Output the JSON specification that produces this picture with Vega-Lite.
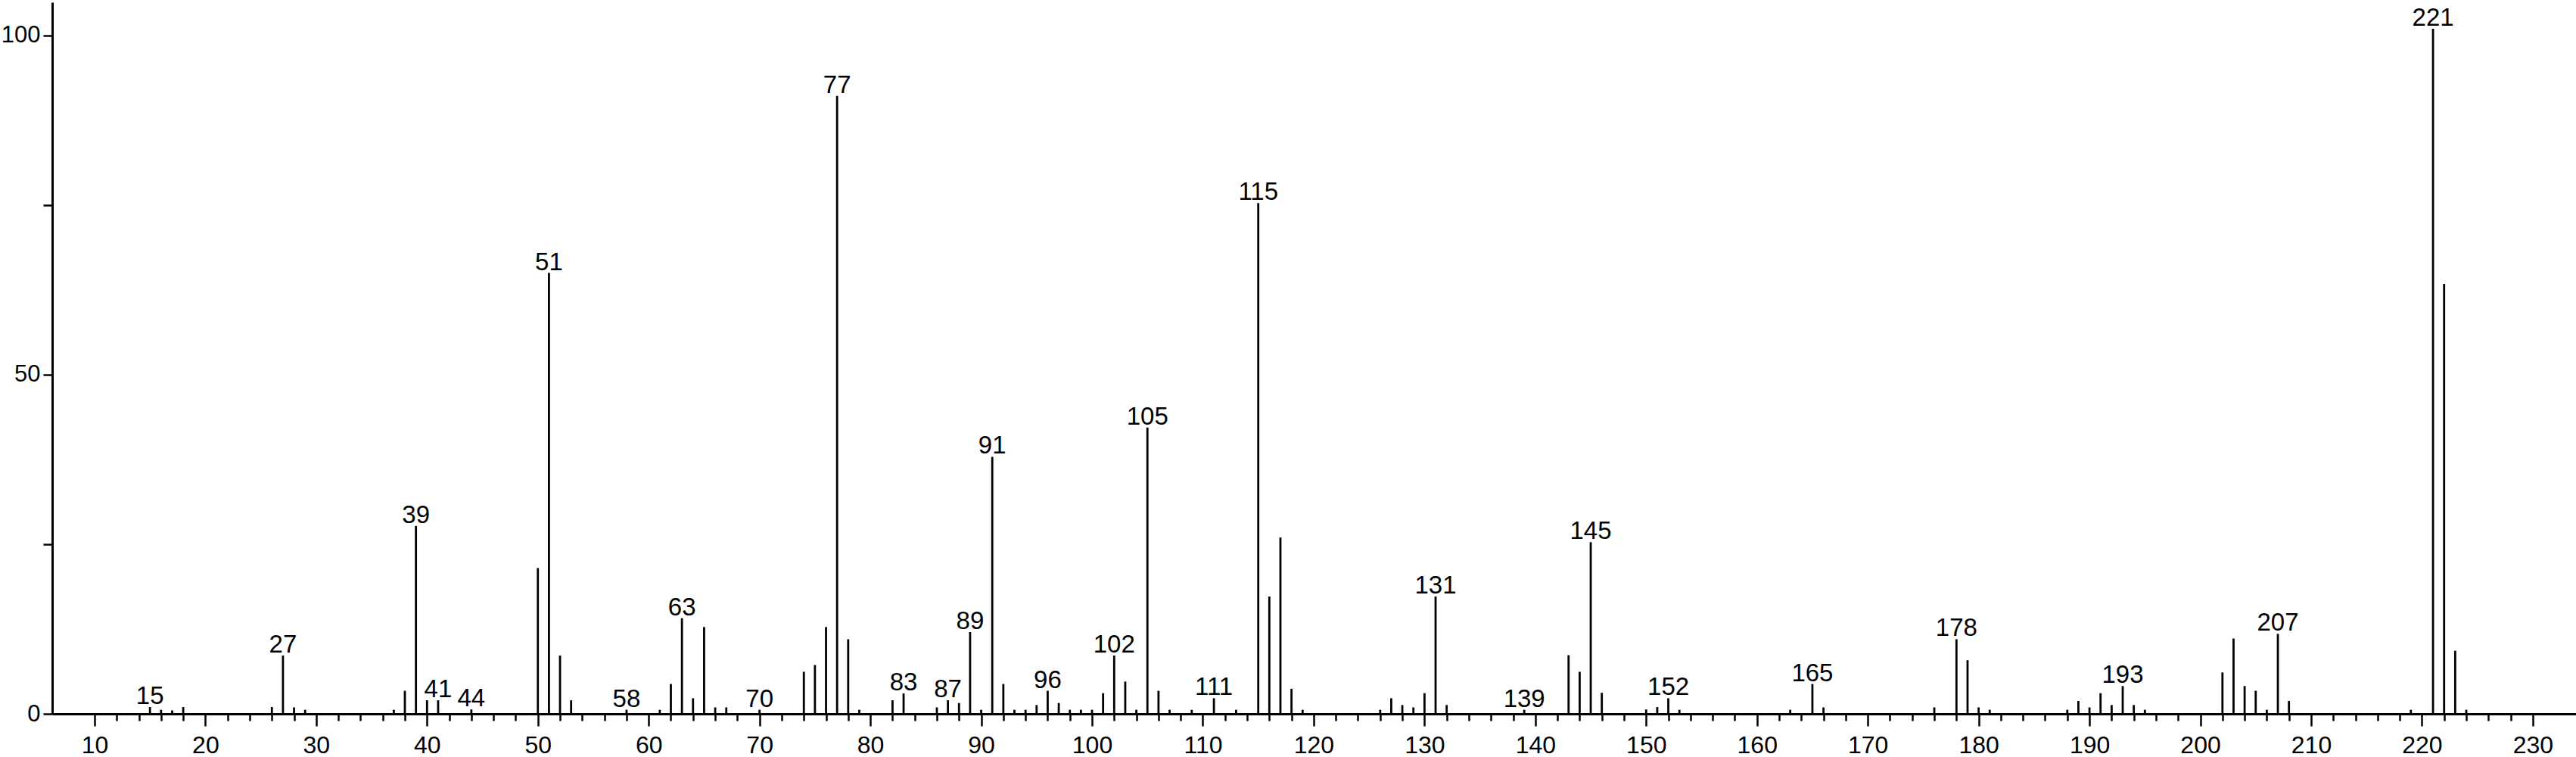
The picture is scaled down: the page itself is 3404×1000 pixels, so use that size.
{
  "$schema": "https://vega.github.io/schema/vega-lite/v6.json",
  "autosize": "none",
  "width": 3335,
  "height": 940,
  "padding": {"left": 69, "top": 3, "right": 0, "bottom": 57},
  "background": "white",
  "config": {
    "view": {"stroke": null},
    "font": "Liberation Sans"
  },
  "data": {
    "values": [
      {"mz": 15, "ab": 1.0, "lab": true},
      {"mz": 16, "ab": 0.6, "lab": false},
      {"mz": 17, "ab": 0.5, "lab": false},
      {"mz": 18, "ab": 1.0, "lab": false},
      {"mz": 26, "ab": 1.0, "lab": false},
      {"mz": 27, "ab": 8.6, "lab": true},
      {"mz": 28, "ab": 0.95, "lab": false},
      {"mz": 29, "ab": 0.6, "lab": false},
      {"mz": 37, "ab": 0.6, "lab": false},
      {"mz": 38, "ab": 3.4, "lab": false},
      {"mz": 39, "ab": 27.7, "lab": true},
      {"mz": 40, "ab": 2.0, "lab": false},
      {"mz": 41, "ab": 2.0, "lab": true},
      {"mz": 44, "ab": 0.65, "lab": true},
      {"mz": 50, "ab": 21.5, "lab": false},
      {"mz": 51, "ab": 65.0, "lab": true},
      {"mz": 52, "ab": 8.6, "lab": false},
      {"mz": 53, "ab": 2.0, "lab": false},
      {"mz": 58, "ab": 0.6, "lab": true},
      {"mz": 61, "ab": 0.6, "lab": false},
      {"mz": 62, "ab": 4.4, "lab": false},
      {"mz": 63, "ab": 14.1, "lab": true},
      {"mz": 64, "ab": 2.3, "lab": false},
      {"mz": 65, "ab": 12.8, "lab": false},
      {"mz": 66, "ab": 0.95, "lab": false},
      {"mz": 67, "ab": 0.95, "lab": false},
      {"mz": 70, "ab": 0.6, "lab": true},
      {"mz": 74, "ab": 6.2, "lab": false},
      {"mz": 75, "ab": 7.2, "lab": false},
      {"mz": 76, "ab": 12.8, "lab": false},
      {"mz": 77, "ab": 91.1, "lab": true},
      {"mz": 78, "ab": 11.0, "lab": false},
      {"mz": 79, "ab": 0.6, "lab": false},
      {"mz": 82, "ab": 2.0, "lab": false},
      {"mz": 83, "ab": 3.0, "lab": true},
      {"mz": 86, "ab": 0.95, "lab": false},
      {"mz": 87, "ab": 2.0, "lab": true},
      {"mz": 88, "ab": 1.6, "lab": false},
      {"mz": 89, "ab": 12.05, "lab": true},
      {"mz": 90, "ab": 0.6, "lab": false},
      {"mz": 91, "ab": 37.9, "lab": true},
      {"mz": 92, "ab": 4.4, "lab": false},
      {"mz": 93, "ab": 0.6, "lab": false},
      {"mz": 94, "ab": 0.6, "lab": false},
      {"mz": 95, "ab": 1.3, "lab": false},
      {"mz": 96, "ab": 3.4, "lab": true},
      {"mz": 97, "ab": 1.6, "lab": false},
      {"mz": 98, "ab": 0.6, "lab": false},
      {"mz": 99, "ab": 0.6, "lab": false},
      {"mz": 100, "ab": 0.6, "lab": false},
      {"mz": 101, "ab": 3.05, "lab": false},
      {"mz": 102, "ab": 8.6, "lab": true},
      {"mz": 103, "ab": 4.76, "lab": false},
      {"mz": 104, "ab": 0.6, "lab": false},
      {"mz": 105, "ab": 42.2, "lab": true},
      {"mz": 106, "ab": 3.4, "lab": false},
      {"mz": 107, "ab": 0.6, "lab": false},
      {"mz": 109, "ab": 0.6, "lab": false},
      {"mz": 111, "ab": 2.3, "lab": true},
      {"mz": 113, "ab": 0.6, "lab": false},
      {"mz": 115, "ab": 75.3, "lab": true},
      {"mz": 116, "ab": 17.3, "lab": false},
      {"mz": 117, "ab": 26.0, "lab": false},
      {"mz": 118, "ab": 3.7, "lab": false},
      {"mz": 119, "ab": 0.6, "lab": false},
      {"mz": 126, "ab": 0.6, "lab": false},
      {"mz": 127, "ab": 2.3, "lab": false},
      {"mz": 128, "ab": 1.3, "lab": false},
      {"mz": 129, "ab": 0.95, "lab": false},
      {"mz": 130, "ab": 3.05, "lab": false},
      {"mz": 131, "ab": 17.3, "lab": true},
      {"mz": 132, "ab": 1.3, "lab": false},
      {"mz": 139, "ab": 0.6, "lab": true},
      {"mz": 143, "ab": 8.65, "lab": false},
      {"mz": 144, "ab": 6.2, "lab": false},
      {"mz": 145, "ab": 25.3, "lab": true},
      {"mz": 146, "ab": 3.1, "lab": false},
      {"mz": 150, "ab": 0.65, "lab": false},
      {"mz": 151, "ab": 1.0, "lab": false},
      {"mz": 152, "ab": 2.3, "lab": true},
      {"mz": 153, "ab": 0.6, "lab": false},
      {"mz": 163, "ab": 0.6, "lab": false},
      {"mz": 165, "ab": 4.4, "lab": true},
      {"mz": 166, "ab": 0.95, "lab": false},
      {"mz": 176, "ab": 0.95, "lab": false},
      {"mz": 178, "ab": 11.0, "lab": true},
      {"mz": 179, "ab": 7.9, "lab": false},
      {"mz": 180, "ab": 0.95, "lab": false},
      {"mz": 181, "ab": 0.6, "lab": false},
      {"mz": 188, "ab": 0.6, "lab": false},
      {"mz": 189, "ab": 1.9, "lab": false},
      {"mz": 190, "ab": 0.95, "lab": false},
      {"mz": 191, "ab": 3.05, "lab": false},
      {"mz": 192, "ab": 1.3, "lab": false},
      {"mz": 193, "ab": 4.1, "lab": true},
      {"mz": 194, "ab": 1.3, "lab": false},
      {"mz": 195, "ab": 0.6, "lab": false},
      {"mz": 202, "ab": 6.1, "lab": false},
      {"mz": 203, "ab": 11.1, "lab": false},
      {"mz": 204, "ab": 4.1, "lab": false},
      {"mz": 205, "ab": 3.4, "lab": false},
      {"mz": 206, "ab": 0.6, "lab": false},
      {"mz": 207, "ab": 11.8, "lab": true},
      {"mz": 208, "ab": 1.9, "lab": false},
      {"mz": 219, "ab": 0.6, "lab": false},
      {"mz": 221, "ab": 101, "lab": true},
      {"mz": 222, "ab": 63.4, "lab": false},
      {"mz": 223, "ab": 9.3, "lab": false},
      {"mz": 224, "ab": 0.6, "lab": false}
    ]
  },
  "resolve": {"axis": {"x": "independent"}},
  "layer": [
    {
      "mark": {"type": "rule", "color": "black", "strokeWidth": 2.8, "strokeCap": "butt"},
      "encoding": {
        "x": {
          "field": "mz", "type": "quantitative",
          "scale": {"domain": [6.18, 233.9], "nice": false, "zero": false},
          "axis": {
            "orient": "bottom",
            "title": null,
            "grid": false,
            "values": [10,20,30,40,50,60,70,80,90,100,110,120,130,140,150,160,170,180,190,200,210,220,230],
            "tickSize": 16,
            "tickWidth": 2.5,
            "tickColor": "black",
            "domainColor": "black",
            "domainWidth": 3,
            "labelFont": "Liberation Sans",
            "labelFontSize": 32,
            "labelColor": "black",
            "labelPadding": 10,
            "labelFlush": false,
            "labelOverlap": false
          }
        },
        "y": {
          "field": "ab", "type": "quantitative",
          "scale": {"domain": [0, 104.9], "nice": false},
          "axis": {
            "title": null,
            "grid": false,
            "values": [0, 25, 50, 75, 100],
            "labelExpr": "datum.value % 50 === 0 ? datum.label : ''",
            "tickSize": 12,
            "tickWidth": 2.5,
            "tickColor": "black",
            "domainColor": "black",
            "domainWidth": 3,
            "labelFont": "Liberation Sans",
            "labelFontSize": 31,
            "labelColor": "black",
            "labelPadding": 4,
            "labelFlush": false,
            "labelOverlap": false
          }
        },
        "y2": {"datum": 0}
      }
    },
    {
      "transform": [{"filter": "datum.lab"}],
      "mark": {"type": "text", "color": "black", "font": "Liberation Sans", "fontSize": 33, "align": "center", "baseline": "alphabetic", "dy": -4},
      "encoding": {
        "x": {
          "field": "mz", "type": "quantitative",
          "axis": {
            "orient": "bottom",
            "title": null,
            "grid": false,
            "values": [12,14,16,18,22,24,26,28,32,34,36,38,42,44,46,48,52,54,56,58,62,64,66,68,72,74,76,78,82,84,86,88,92,94,96,98,102,104,106,108,112,114,116,118,122,124,126,128,132,134,136,138,142,144,146,148,152,154,156,158,162,164,166,168,172,174,176,178,182,184,186,188,192,194,196,198,202,204,206,208,212,214,216,218,222,224,226,228],
            "tickSize": 9,
            "tickWidth": 2.5,
            "tickColor": "black",
            "domain": false,
            "labels": false
          }
        },
        "y": {"field": "ab", "type": "quantitative"},
        "text": {"field": "mz", "type": "nominal"}
      }
    }
  ]
}
